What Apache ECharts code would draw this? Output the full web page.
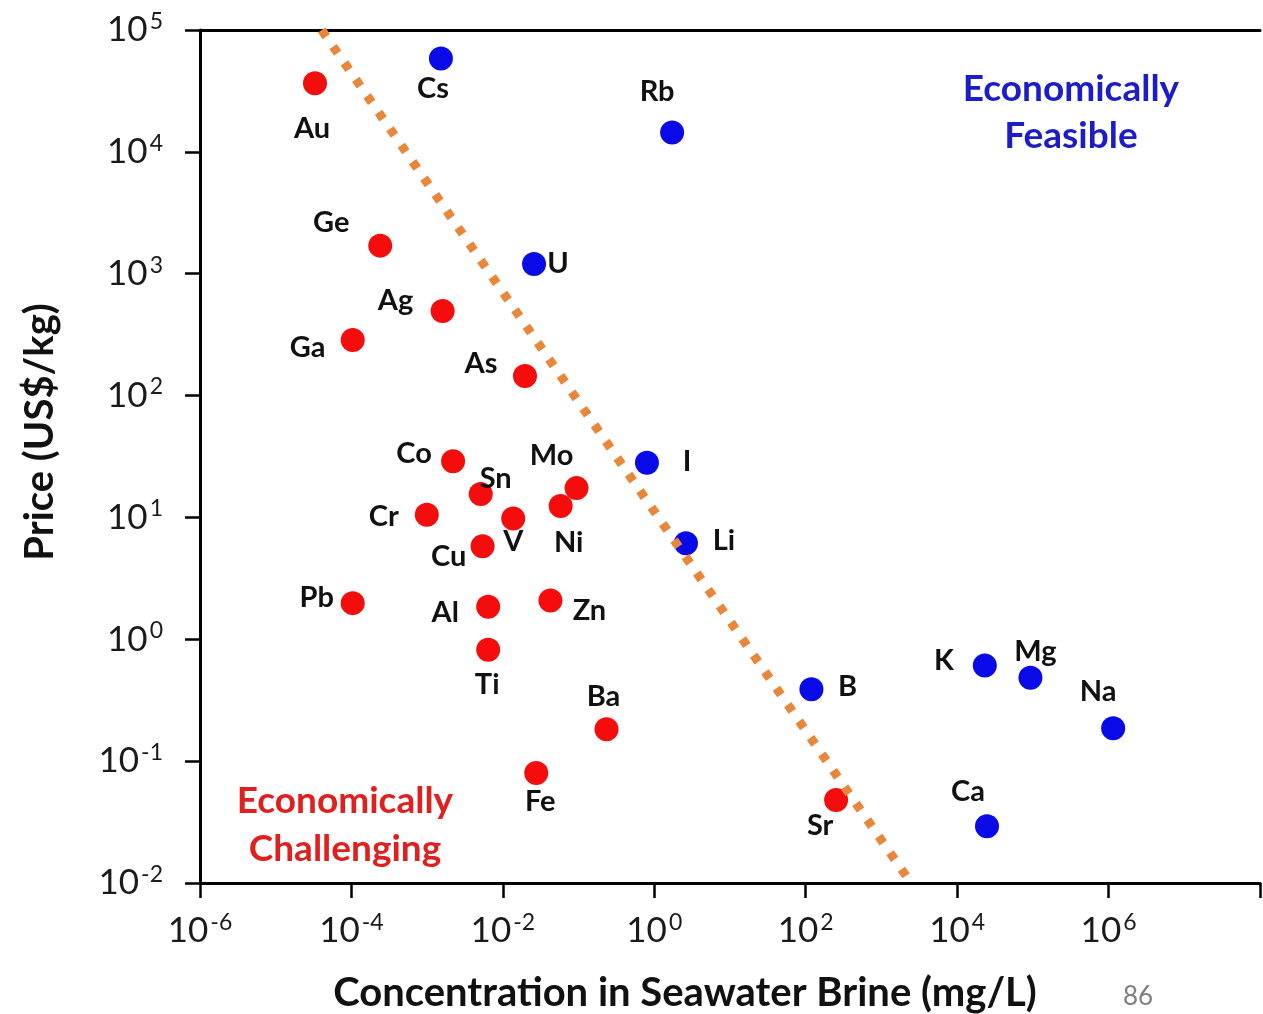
<!DOCTYPE html>
<html lang="en">
  <head>
    <meta charset="utf-8" />
    <title>Price vs concentration in seawater brine</title>
    <script src="https://cdn.jsdelivr.net/npm/echarts@6/dist/echarts.min.js"></script>
    <style>
      html, body { margin: 0; padding: 0; background: #fff; }
      #chart { width: 1263px; height: 1014px; }
    </style>
  </head>
  <body>
    <div id="chart"></div>
    <script>
      // economically challenging elements (red)
      var redNames = ['Au', 'Ge', 'Ag', 'Ga', 'As', 'Co', 'Sn', 'Mo', 'Ni', 'Cr', 'V', 'Cu', 'Pb', 'Al', 'Zn', 'Ti', 'Ba', 'Fe', 'Sr']
      var redConc = [3.3e-5, 2.4e-4, 1.6e-3, 1.04e-4, 0.0196, 2.2e-3, 5.1e-3, 0.094, 0.058, 9.9e-4, 0.0137, 5.4e-3, 1.04e-4, 6.4e-3, 0.0425, 6.4e-3, 0.234, 0.0276, 252]
      var redPrice = [36500, 1700, 494, 286, 145, 28.9, 15.6, 17.4, 12.4, 10.5, 9.8, 5.8, 1.98, 1.85, 2.08, 0.82, 0.183, 0.080, 0.048]

      // economically feasible elements (blue)
      var blueNames = ['Cs', 'Rb', 'U', 'I', 'Li', 'B', 'K', 'Mg', 'Na', 'Ca']
      var blueConc = [1.52e-3, 1.72, 0.0258, 0.80, 2.62, 119, 23200, 92900, 1.15e6, 24800]
      var bluePrice = [58400, 14400, 1200, 28.1, 6.15, 0.389, 0.61, 0.483, 0.186, 0.0292]

      // dotted feasibility boundary
      var boundaryConc = [4.05e-5, 2455]
      var boundaryPrice = [1e5, 0.01]

      var axisMin = 1e-6, axisMax = 1e8

      // where each element's name sits relative to its dot
      var labelOffset = {
        Au: [-3, 45], Cs: [-8, 30], Rb: [-15, -41], Ge: [-49, -23], U: [24, 0], Ag: [-47, -10], Ga: [-45, 8],
        As: [-44, -12], Co: [-39, -8], Sn: [15, -15], Mo: [-25, -32], Ni: [8, 37], Cr: [-43, 2], V: [0, 23],
        Cu: [-34, 10], Pb: [-36, -5], Al: [-43, 6], Zn: [39, 10], Ti: [-1, 35], Ba: [-3, -33], Fe: [4, 29],
        Sr: [-16, 26], I: [40, -1], Li: [38, -3], B: [36, -3], K: [-41, -5], Mg: [5, -26], Na: [-15, -37], Ca: [-19, -35]
      }

      function points(names, conc, price) {
        return names.map(function (n, i) {
          return { name: n, value: [conc[i], price[i]], label: { offset: labelOffset[n] } }
        })
      }

      function powLabel(v) {
        var e = Math.round(Math.log10(v))
        if (e > 6) return ''
        return '{b|10}{s|' + e + '}'
      }

      var tickRich = {
        b: { fontFamily: 'Lato', fontSize: 35, lineHeight: 40, color: '#1a1a1a' },
        s: { fontFamily: 'Lato', fontSize: 23, lineHeight: 24, color: '#1a1a1a', verticalAlign: 'top', padding: [0, 0, 0, 2] }
      }

      var elemLabel = {
        show: true,
        position: 'inside',
        formatter: '{b}',
        fontFamily: 'Lato',
        fontWeight: 'bold',
        fontSize: 29,
        color: '#111'
      }

      window.onload = function () {
        var chart = echarts.init(document.getElementById('chart'), null, { renderer: 'canvas' })
        chart.setOption({
          animation: false,
          backgroundColor: '#fff',
          grid: { left: 200, right: 0, top: 30, bottom: 131 },
          xAxis: [{
            type: 'log',
            logBase: 100,
            min: axisMin,
            max: axisMax,
            axisLine: { lineStyle: { color: '#000', width: 3 } },
            axisTick: { length: 15, lineStyle: { color: '#000', width: 2.5 } },
            axisLabel: { margin: 28, formatter: powLabel, rich: tickRich },
            splitLine: { show: false }
          }, {
            type: 'log',
            position: 'top',
            min: axisMin,
            max: axisMax,
            axisLine: { lineStyle: { color: '#000', width: 3 } },
            axisTick: { show: false },
            axisLabel: { show: false },
            splitLine: { show: false }
          }],
          yAxis: {
            type: 'log',
            logBase: 10,
            min: 0.01,
            max: 1e5,
            axisLine: { lineStyle: { color: '#000', width: 3 } },
            axisTick: { length: 15, lineStyle: { color: '#000', width: 2.5 } },
            axisLabel: { margin: 37, formatter: powLabel, rich: tickRich },
            splitLine: { show: false }
          },
          series: [{
            type: 'scatter',
            symbolSize: 24,
            itemStyle: { color: '#f50d0d', opacity: 1 },
            label: elemLabel,
            data: points(redNames, redConc, redPrice)
          }, {
            type: 'scatter',
            symbolSize: 24,
            itemStyle: { color: '#0a0ae8', opacity: 1 },
            label: elemLabel,
            data: points(blueNames, blueConc, bluePrice)
          }, {
            type: 'line',
            z: 5,
            symbol: 'none',
            lineStyle: { color: '#e8863a', width: 9, type: [8, 12] },
            data: boundaryConc.map(function (c, i) { return [c, boundaryPrice[i]] })
          }],
          graphic: [{
            type: 'text', x: 1071, y: 113,
            style: { text: 'Economically\nFeasible', textAlign: 'center', textVerticalAlign: 'middle', lineHeight: 47,
              font: 'bold 37px Lato', fill: '#1c1cc8' }
          }, {
            type: 'text', x: 345, y: 825,
            style: { text: 'Economically\nChallenging', textAlign: 'center', textVerticalAlign: 'middle', lineHeight: 48,
              font: 'bold 37px Lato', fill: '#e0201e' }
          }, {
            type: 'text', x: 685, y: 993,
            style: { text: 'Concentration in Seawater Brine (mg/L)', textAlign: 'center', textVerticalAlign: 'middle',
              font: 'bold 40px Lato', fill: '#111' }
          }, {
            type: 'text', x: 40, y: 432, rotation: Math.PI / 2,
            style: { text: 'Price (US$/kg)', textAlign: 'center', textVerticalAlign: 'middle',
              font: 'bold 40px Lato', fill: '#111' }
          }, {
            type: 'text', x: 1138, y: 997,
            style: { text: '86', textAlign: 'center', textVerticalAlign: 'middle', font: '26px Lato', fill: '#808080' }
          }]
        })
      }
    </script>
  </body>
</html>
